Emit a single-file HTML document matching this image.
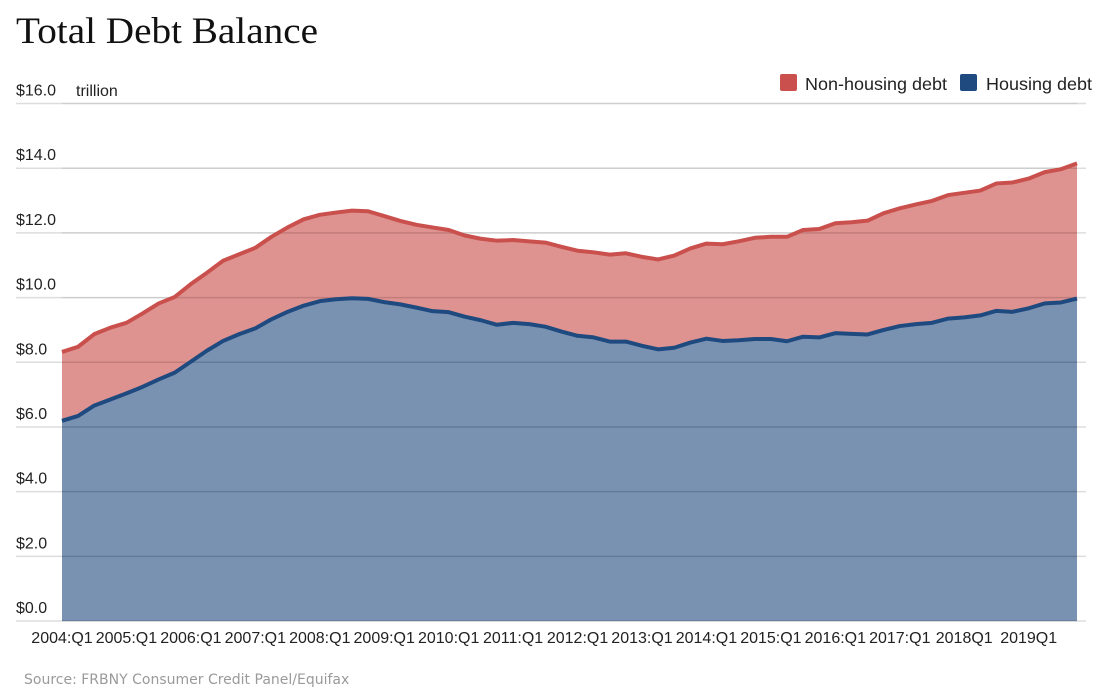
<!DOCTYPE html>
<html><head><meta charset="utf-8"><style>
html,body{margin:0;padding:0;background:#fff;}
svg{display:block;font-family:"Liberation Sans",Arial,sans-serif;}
</style></head><body>
<svg id="chart" width="1107" height="698" viewBox="0 0 1107 698" xmlns="http://www.w3.org/2000/svg">
<text x="16" y="43" font-family="Liberation Serif, serif" font-size="37" textLength="302" lengthAdjust="spacingAndGlyphs" fill="#111">Total Debt Balance</text>
<g id="grid"></g>
<g id="areas"></g>
<g id="gridTop"></g>
<g id="lines"></g>
<g id="yaxis"></g>
<text x="76" y="96" font-size="16" fill="#222">trillion</text>
<g id="xaxis"></g>
<g>
<g>
<rect x="780" y="74" width="17" height="17" rx="2" fill="#c9504c"/>
<text x="805" y="90" font-size="17.5" textLength="142" lengthAdjust="spacingAndGlyphs" fill="#222">Non-housing debt</text></g>
<g>
<rect x="960" y="74" width="17" height="17" rx="2" fill="#1f4a7f"/>
<text x="986" y="90" font-size="17.5" textLength="106" lengthAdjust="spacingAndGlyphs" fill="#222">Housing debt</text></g>
</g>
<text x="24" y="684" font-family="DejaVu Sans, sans-serif" font-size="14" fill="#9a9a9a">Source: FRBNY Consumer Credit Panel/Equifax</text>
</svg>
<script>
const housing = [6.19,6.34,6.66,6.85,7.04,7.24,7.47,7.68,8.02,8.36,8.66,8.87,9.05,9.33,9.56,9.75,9.89,9.95,9.98,9.96,9.86,9.79,9.69,9.58,9.55,9.41,9.30,9.16,9.22,9.18,9.10,8.95,8.82,8.77,8.64,8.64,8.51,8.40,8.45,8.61,8.73,8.66,8.68,8.72,8.72,8.65,8.79,8.77,8.90,8.88,8.86,9.00,9.12,9.18,9.22,9.35,9.39,9.45,9.59,9.56,9.67,9.82,9.85,9.97];
const nonHousing = [2.13,2.14,2.21,2.22,2.18,2.27,2.35,2.34,2.40,2.41,2.48,2.47,2.49,2.55,2.61,2.67,2.67,2.68,2.71,2.71,2.66,2.58,2.56,2.59,2.54,2.51,2.52,2.60,2.56,2.56,2.60,2.62,2.63,2.63,2.69,2.73,2.75,2.78,2.85,2.91,2.94,2.99,3.06,3.13,3.16,3.23,3.30,3.35,3.40,3.45,3.52,3.61,3.64,3.70,3.77,3.82,3.85,3.86,3.94,4.00,4.01,4.06,4.12,4.18];
const yTicks = [0,2,4,6,8,10,12,14,16];
const yTickLabels = ["$0.0","$2.0","$4.0","$6.0","$8.0","$10.0","$12.0","$14.0","$16.0"];
const xTickIndex = [0,4,8,12,16,20,24,28,32,36,40,44,48,52,56,60];
const xTickLabels = ["2004:Q1","2005:Q1","2006:Q1","2007:Q1","2008:Q1","2009:Q1","2010:Q1","2011:Q1","2012:Q1","2013:Q1","2014:Q1","2015:Q1","2016:Q1","2017:Q1","2018Q1","2019Q1"];

const NS='http://www.w3.org/2000/svg';
const X0=62, X1=1077, Y0=621, YPER=32.34;
function xScale(i){return X0+(X1-X0)*i/(housing.length-1);}
function yScale(v){return Y0-v*YPER;}
function mk(tag,attrs,parent){const e=document.createElementNS(NS,tag);for(const k in attrs)e.setAttribute(k,attrs[k]);parent.appendChild(e);return e;}

const grid=document.getElementById('grid'), gridTop=document.getElementById('gridTop');
const yax=document.getElementById('yaxis');
yTicks.forEach((t,k)=>{
  const y=yScale(t);
  const g=mk('line',{x1:16,x2:1086,y1:y,y2:y,stroke:'#dddddd','stroke-width':1.5},grid);
  
  
  const g2=mk('line',{x1:X0,x2:X1,y1:y,y2:y,stroke:'#000','stroke-opacity':0.07,'stroke-width':1.5},gridTop);
  
  
  const tx=mk('text',{x:16,y:y-8,'font-size':16,fill:'#222'},yax);
  tx.textContent=yTickLabels[k];
  
  
});

const total=housing.map((h,i)=>h+nonHousing[i]);
function linePts(arr){return arr.map((v,i)=>xScale(i).toFixed(2)+','+yScale(v).toFixed(2));}
const areas=document.getElementById('areas');
const topPts=linePts(total), housePts=linePts(housing);
const redArea=mk('polygon',{points:topPts.join(' ')+' '+housePts.slice().reverse().join(' '),fill:'#c9504c','fill-opacity':0.62},areas);


const blueArea=mk('polygon',{points:housePts.join(' ')+' '+xScale(housing.length-1)+','+Y0+' '+X0+','+Y0,fill:'#1f4a7f','fill-opacity':0.6},areas);



const lines=document.getElementById('lines');
const redLine=mk('polyline',{points:topPts.join(' '),fill:'none',stroke:'#c9504c','stroke-width':4,'stroke-linejoin':'round'},lines);


const blueLine=mk('polyline',{points:housePts.join(' '),fill:'none',stroke:'#1f4a7f','stroke-width':4,'stroke-linejoin':'round'},lines);



const xax=document.getElementById('xaxis');
xTickIndex.forEach((idx,k)=>{
  const tx=mk('text',{x:xScale(idx),y:643,'font-size':16,fill:'#222','text-anchor':'middle'},xax);
  tx.textContent=xTickLabels[k];
  
  
});
</script>
</body></html>
